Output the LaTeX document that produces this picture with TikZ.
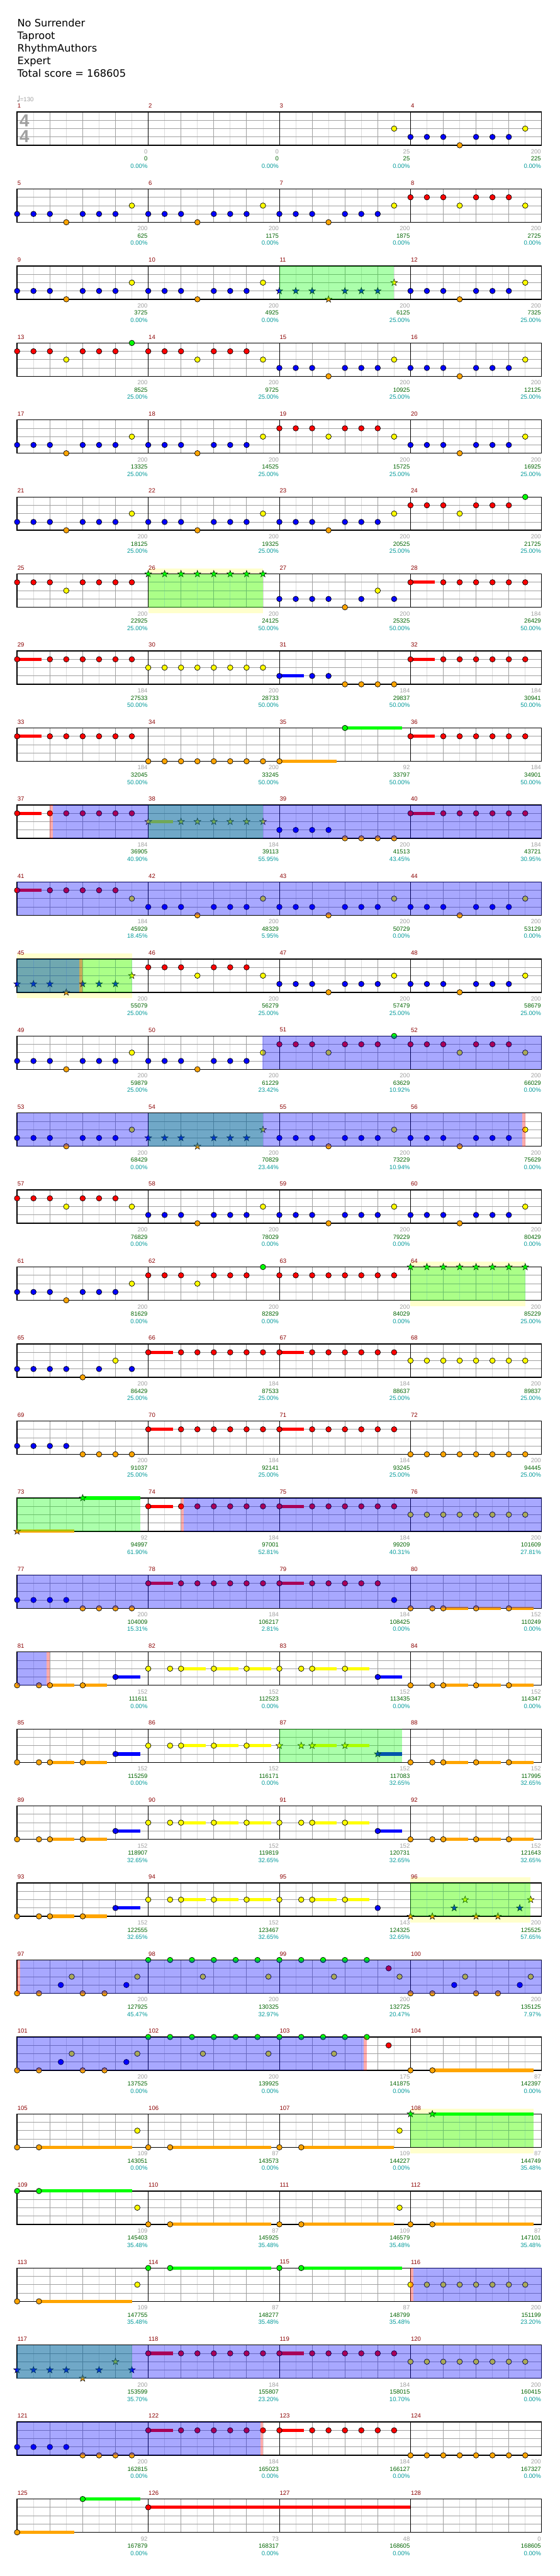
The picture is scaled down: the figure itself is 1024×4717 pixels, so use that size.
\documentclass[tikz,border=0pt]{standalone}
\usepackage{fontspec}
\setmainfont{Liberation Sans}
\newfontfamily\titlefont{DejaVu Sans}
\definecolor{nc0}{RGB}{0,255,0}
\definecolor{nc1}{RGB}{255,0,0}
\definecolor{nc2}{RGB}{255,255,0}
\definecolor{nc3}{RGB}{0,0,255}
\definecolor{nc4}{RGB}{255,165,0}
\definecolor{cgrey}{RGB}{160,160,160}
\definecolor{clight}{RGB}{220,220,220}
\definecolor{cmnum}{RGB}{139,0,0}
\definecolor{ctot}{RGB}{0,100,0}
\definecolor{cpct}{RGB}{0,153,153}
\definecolor{cybg}{RGB}{255,255,204}
\tikzset{
  gl/.style={clight,line width=1pt},
  gd/.style={cgrey,line width=1pt},
  bar/.style={black,line width=1pt},
  border/.style={black,line width=1.6pt},
  notepen/.style={black,line width=0.8pt},
  mnum/.style={anchor=west,inner sep=0pt,text=cmnum,font=\fontsize{11}{13}\selectfont},
  pts/.style={anchor=east,inner sep=0pt,text=cgrey,font=\fontsize{11}{13}\selectfont},
  tot/.style={anchor=east,inner sep=0pt,text=ctot,font=\fontsize{11}{13}\selectfont},
  pct/.style={anchor=east,inner sep=0pt,text=cpct,font=\fontsize{11}{13}\selectfont},
  hdr/.style={anchor=base west,inner sep=0pt,font=\titlefont\fontsize{18.7}{22}\selectfont},
  tsig/.style={inner sep=0pt,text=cgrey,font=\bfseries\fontsize{32}{34}\selectfont},
}
\newcommand\setrc[1]{%
  \pgfmathtruncatemacro\rr{(#1-1)/4}%
  \pgfmathtruncatemacro\cc{#1-1-4*\rr}%
  \pgfmathsetmacro\xx{31.3+240*\cc}%
  \pgfmathsetmacro\yy{205+141*\rr}%
}
\newcommand\nt[3]{%
  \pgfmathsetmacro\nx{\xx+#1}%
  \pgfmathsetmacro\ny{\yy+15.25*#2}%
  \ifnum#3>0 \fill[nc#2] (\nx,\ny-3) rectangle (\xx+#3,\ny+3);\fi
  \draw[notepen,fill=nc#2] (\nx,\ny) circle[radius=5];%
}
\newcommand\st[3]{%
  \pgfmathsetmacro\nx{\xx+#1}%
  \pgfmathsetmacro\ny{\yy+15.25*#2}%
  \ifnum#3>0 \fill[nc#2] (\nx,\ny-3) rectangle (\xx+#3,\ny+3);\fi
  \draw[notepen,line width=0.6pt,fill=nc#2] (\nx,\ny) +(-90:6.5) -- +(-54:2.6) -- +(-18:6.5) -- +(18:2.6) -- +(54:6.5) -- +(90:2.6) -- +(126:6.5) -- +(162:2.6) -- +(198:6.5) -- +(234:2.6) -- cycle;%
}
\newcommand\meas[2]{\setrc{#1}\foreach \p/\l/\s in #2 {\nt{\p}{\l}{\s}}}
\newcommand\smeas[2]{\setrc{#1}\foreach \p/\l/\s in #2 {\st{\p}{\l}{\s}}}
\newcommand\sco[4]{\setrc{#1}%
  \pgfmathsetmacro\ex{\xx+239}%
  \node[pts] (p#1) at (\ex,\yy+72.7) {#2};%
  \node[tot] (t#1) at (\ex,\yy+86) {#3};%
  \node[pct] (c#1) at (\ex,\yy+99.3) {#4\%};}
\newcommand\staffrow[1]{%
  \pgfmathsetmacro\yy{205+141*#1}%
  \foreach \k in {0,...,15} {\draw[gl] ({61.3+60*\k},\yy) -- ++(0,61);}%
  \foreach \k in {1,2,3,5,6,7,9,10,11,13,14,15} {\draw[gd] ({31.3+60*\k},\yy) -- ++(0,61);}%
  \foreach \f in {15.25,30.5,45.75} {\draw[gd] (31.3,\yy+\f) -- (991.3,\yy+\f);}%
  \foreach \k in {1,2,3} {\draw[bar] ({31.3+240*\k},\yy) -- ++(0,61);}%
  \draw[border] (31.3,\yy) rectangle (991.3,\yy+61);%
  \foreach \c in {0,1,2,3} {\pgfmathtruncatemacro\mm{4*#1+\c+1}\node[mnum] (n\mm) at ({31.8+240*\c},\yy-11) {\mm};}%
}
\newcommand\ybg[3]{\fill[cybg] (#2,{205+141*#1-10}) rectangle (#3,{205+141*#1+72});}
\newcommand\greg[3]{\fill[nc0,fill opacity=0.33] (#2,{205+141*#1}) rectangle (#3,{205+141*#1+61});}
\newcommand\breg[3]{\fill[nc3,fill opacity=0.34] (#2,{205+141*#1}) rectangle (#3,{205+141*#1+61});}
\newcommand\preg[3]{\fill[nc1,fill opacity=0.33] (#2,{205+141*#1}) rectangle (#3,{205+141*#1+61});}
\def\patA{0/3/0,30/3/0,60/3/0,90/4/0,120/3/0,150/3/0,180/3/0,210/2/0}
\def\patC{0/1/0,30/1/0,60/1/0,90/2/0,120/1/0,150/1/0,180/1/0,210/2/0}
\def\patCG{0/1/0,30/1/0,60/1/0,90/2/0,120/1/0,150/1/0,180/1/0,210/0/0}
\def\patCR{0/1/0,30/1/0,60/1/0,90/2/0,120/1/0,150/1/0,180/1/0,210/1/0}
\def\patD{0/3/0,30/3/0,60/3/0,90/3/0,120/4/0,150/3/0,180/2/0,210/3/0}
\def\patE{0/3/0,30/3/0,60/3/0,90/3/0,120/4/0,150/4/0,180/4/0,210/4/0}
\def\patRS{0/1/45,60/1/0,90/1/0,120/1/0,150/1/0,180/1/0,210/1/0}
\def\allG{0/0/0,30/0/0,60/0/0,90/0/0,120/0/0,150/0/0,180/0/0,210/0/0}
\def\allR{0/1/0,30/1/0,60/1/0,90/1/0,120/1/0,150/1/0,180/1/0,210/1/0}
\def\allY{0/2/0,30/2/0,60/2/0,90/2/0,120/2/0,150/2/0,180/2/0,210/2/0}
\def\allO{0/4/0,30/4/0,60/4/0,90/4/0,120/4/0,150/4/0,180/4/0,210/4/0}
\def\patP{0/4/0,40/4/0,60/4/105,120/4/165,180/4/225}
\def\patPB{0/4/0,40/4/0,60/4/105,120/4/165,180/3/225}
\def\patPY{0/2/0,40/2/0,60/2/105,120/2/165,180/2/225}
\def\patPYB{0/2/0,40/2/0,60/2/105,120/2/165,180/3/225}
\def\patQ{0/4/0,40/4/0,80/3/0,100/2/0,120/4/0,160/4/0,200/3/0,220/2/0}
\def\patGG{0/0/0,40/0/0,80/0/0,100/2/0,120/0/0,160/0/0,200/0/0,220/2/0}
\def\patLa{0/4/0,40/4/210,220/2/0}
\def\patLb{0/4/0,40/4/225}
\def\patGL{0/0/0,40/0/225}
\begin{document}
\begin{tikzpicture}[x=1pt,y=-1pt]
\useasboundingbox (0,0) rectangle (1024,4717);
\fill[white] (0,0) rectangle (1024,4717);
% header
\node[hdr] (hdr1) at (31.5,49) {No Surrender};
\node[hdr] (hdr2) at (31.5,72) {Taproot};
\node[hdr] (hdr3) at (31.5,95) {RhythmAuthors};
\node[hdr] (hdr4) at (31.5,118) {Expert};
\node[hdr] (hdr5) at (31.5,141) {Total score = 168605};
% tempo
\fill[cgrey] (33.3,184.8) ellipse[x radius=2.2,y radius=1.7];
\draw[cgrey,line width=0.7pt] (35.2,184.5) -- (35.2,174.5);
\node[anchor=west,inner sep=0pt,text=cgrey,font=\fontsize{11}{13}\selectfont] (tempo) at (36.5,181.7) {=130};
% yellow backgrounds
\ybg{6}{271.3}{481.3}
\ybg{11}{31.3}{241.3}
\ybg{15}{751.3}{961.3}
\ybg{23}{751.3}{971.3}
\ybg{26}{751.3}{976.3}
% staves
\foreach \r in {0,...,31} {\staffrow{\r}}
\node[tsig] (ts1) at (44.7,221) {4};
\node[tsig] (ts2) at (44.7,250) {4};
% notes
\meas{3}{{210/2/0}}
\meas{4}{\patA}
\meas{5}{\patA}\meas{6}{\patA}\meas{7}{\patA}\meas{8}{\patC}
\meas{9}{\patA}\meas{10}{\patA}\smeas{11}{\patA}\meas{12}{\patA}
\meas{13}{\patCG}\meas{14}{\patC}\meas{15}{\patA}\meas{16}{\patA}
\meas{17}{\patA}\meas{18}{\patA}\meas{19}{\patC}\meas{20}{\patA}
\meas{21}{\patA}\meas{22}{\patA}\meas{23}{\patA}\meas{24}{\patCG}
\meas{25}{\patCR}\smeas{26}{\allG}\meas{27}{\patD}\meas{28}{\patRS}
\meas{29}{\patRS}\meas{30}{\allY}\meas{31}{{0/3/45,60/3/0,90/3/0,120/4/0,150/4/0,180/4/0,210/4/0}}\meas{32}{\patRS}
\meas{33}{\patRS}\meas{34}{\allO}\meas{35}{{0/4/105,120/0/225}}\meas{36}{\patRS}
\meas{37}{\patRS}\smeas{38}{{0/2/45,60/2/0,90/2/0,120/2/0,150/2/0,180/2/0,210/2/0}}\meas{39}{\patE}\meas{40}{\patRS}
\meas{41}{{0/1/45,60/1/0,90/1/0,120/1/0,150/1/0,180/1/0,210/2/0}}\meas{42}{\patA}\meas{43}{\patA}\meas{44}{\patA}
\smeas{45}{\patA}\meas{46}{\patC}\meas{47}{\patA}\meas{48}{\patA}
\meas{49}{\patA}\meas{50}{\patA}\meas{51}{\patCG}\meas{52}{\patC}
\meas{53}{\patA}\smeas{54}{\patA}\meas{55}{\patA}\meas{56}{\patA}
\meas{57}{\patC}\meas{58}{\patA}\meas{59}{\patA}\meas{60}{\patA}
\meas{61}{\patA}\meas{62}{\patCG}\meas{63}{\allR}\smeas{64}{\allG}
\meas{65}{\patD}\meas{66}{\patRS}\meas{67}{\patRS}\meas{68}{\allY}
\meas{69}{\patE}\meas{70}{\patRS}\meas{71}{\patRS}\meas{72}{\allO}
\smeas{73}{{0/4/105,120/0/225}}\meas{74}{\patRS}\meas{75}{\patRS}\meas{76}{\allY}
\meas{77}{\patE}\meas{78}{\patRS}\meas{79}{{0/1/45,60/1/0,90/1/0,120/1/0,150/1/0,180/1/0,210/3/0}}\meas{80}{\patP}
\meas{81}{\patPB}\meas{82}{\patPY}\meas{83}{\patPYB}\meas{84}{\patP}
\meas{85}{\patPB}\meas{86}{\patPY}\smeas{87}{\patPYB}\meas{88}{\patP}
\meas{89}{\patPB}\meas{90}{\patPY}\meas{91}{\patPYB}\meas{92}{\patP}
\meas{93}{\patPB}\meas{94}{\patPY}\meas{95}{{0/2/0,40/2/0,60/2/105,120/2/165,180/3/0}}\smeas{96}{\patQ}
\meas{97}{\patQ}\meas{98}{\patGG}\meas{99}{{0/0/0,40/0/0,80/0/0,100/2/0,120/0/0,160/0/0,200/1/0,220/2/0}}\meas{100}{\patQ}
\meas{101}{\patQ}\meas{102}{\patGG}\meas{103}{{0/0/0,40/0/0,80/0/0,100/2/0,120/0/0,160/0/0,200/1/0}}\meas{104}{\patLb}
\meas{105}{\patLa}\meas{106}{\patLb}\meas{107}{\patLa}\smeas{108}{\patGL}
\meas{109}{{0/0/0,40/0/210,220/2/0}}\meas{110}{\patLb}\meas{111}{\patLa}\meas{112}{\patLb}
\meas{113}{\patLa}\meas{114}{\patGL}\meas{115}{\patGL}\meas{116}{\allY}
\smeas{117}{\patD}\meas{118}{\patRS}\meas{119}{\patRS}\meas{120}{\allY}
\meas{121}{\patE}\meas{122}{\patRS}\meas{123}{\patRS}\meas{124}{\allO}
\meas{125}{{0/4/105,120/0/225}}\meas{126}{{0/1/480}}
% green overlays
\greg{2}{511.3}{721.3}
\greg{6}{271.3}{481.3}
\greg{9}{271.3}{481.3}
\greg{11}{31.3}{241.3}
\greg{13}{271.3}{481.3}
\greg{15}{751.3}{961.3}
\greg{18}{31.3}{256.3}
\greg{21}{511.3}{736.3}
\greg{23}{751.3}{971.3}
\greg{26}{751.3}{976.3}
\greg{29}{31.3}{241.3}
% blue overlays
\preg{9}{91.3}{96.3}\breg{9}{96.3}{991.3}
\breg{10}{31.3}{991.3}
\breg{11}{31.3}{145.3}\preg{11}{145.3}{151.3}
\breg{12}{480.3}{991.3}
\breg{13}{31.3}{956.3}\preg{13}{956.3}{961.3}
\preg{18}{331.3}{336.3}\breg{18}{336.3}{991.3}
\breg{19}{31.3}{991.3}
\breg{20}{31.3}{85.3}\preg{20}{85.3}{91.3}
\preg{24}{31.3}{36.3}\breg{24}{36.3}{991.3}
\breg{25}{31.3}{665.3}\preg{25}{665.3}{671.3}
\preg{28}{751.3}{756.3}\breg{28}{756.3}{991.3}
\breg{29}{31.3}{991.3}
\breg{30}{31.3}{476.3}\preg{30}{476.3}{481.3}
% scores
\sco{1}{0}{0}{0.00}\sco{2}{0}{0}{0.00}\sco{3}{25}{25}{0.00}\sco{4}{200}{225}{0.00}
\sco{5}{200}{625}{0.00}\sco{6}{200}{1175}{0.00}\sco{7}{200}{1875}{0.00}\sco{8}{200}{2725}{0.00}
\sco{9}{200}{3725}{0.00}\sco{10}{200}{4925}{0.00}\sco{11}{200}{6125}{25.00}\sco{12}{200}{7325}{25.00}
\sco{13}{200}{8525}{25.00}\sco{14}{200}{9725}{25.00}\sco{15}{200}{10925}{25.00}\sco{16}{200}{12125}{25.00}
\sco{17}{200}{13325}{25.00}\sco{18}{200}{14525}{25.00}\sco{19}{200}{15725}{25.00}\sco{20}{200}{16925}{25.00}
\sco{21}{200}{18125}{25.00}\sco{22}{200}{19325}{25.00}\sco{23}{200}{20525}{25.00}\sco{24}{200}{21725}{25.00}
\sco{25}{200}{22925}{25.00}\sco{26}{200}{24125}{50.00}\sco{27}{200}{25325}{50.00}\sco{28}{184}{26429}{50.00}
\sco{29}{184}{27533}{50.00}\sco{30}{200}{28733}{50.00}\sco{31}{184}{29837}{50.00}\sco{32}{184}{30941}{50.00}
\sco{33}{184}{32045}{50.00}\sco{34}{200}{33245}{50.00}\sco{35}{92}{33797}{50.00}\sco{36}{184}{34901}{50.00}
\sco{37}{184}{36905}{40.90}\sco{38}{184}{39113}{55.95}\sco{39}{200}{41513}{43.45}\sco{40}{184}{43721}{30.95}
\sco{41}{184}{45929}{18.45}\sco{42}{200}{48329}{5.95}\sco{43}{200}{50729}{0.00}\sco{44}{200}{53129}{0.00}
\sco{45}{200}{55079}{25.00}\sco{46}{200}{56279}{25.00}\sco{47}{200}{57479}{25.00}\sco{48}{200}{58679}{25.00}
\sco{49}{200}{59879}{25.00}\sco{50}{200}{61229}{23.42}\sco{51}{200}{63629}{10.92}\sco{52}{200}{66029}{0.00}
\sco{53}{200}{68429}{0.00}\sco{54}{200}{70829}{23.44}\sco{55}{200}{73229}{10.94}\sco{56}{200}{75629}{0.00}
\sco{57}{200}{76829}{0.00}\sco{58}{200}{78029}{0.00}\sco{59}{200}{79229}{0.00}\sco{60}{200}{80429}{0.00}
\sco{61}{200}{81629}{0.00}\sco{62}{200}{82829}{0.00}\sco{63}{200}{84029}{0.00}\sco{64}{200}{85229}{25.00}
\sco{65}{200}{86429}{25.00}\sco{66}{184}{87533}{25.00}\sco{67}{184}{88637}{25.00}\sco{68}{200}{89837}{25.00}
\sco{69}{200}{91037}{25.00}\sco{70}{184}{92141}{25.00}\sco{71}{184}{93245}{25.00}\sco{72}{200}{94445}{25.00}
\sco{73}{92}{94997}{61.90}\sco{74}{184}{97001}{52.81}\sco{75}{184}{99209}{40.31}\sco{76}{200}{101609}{27.81}
\sco{77}{200}{104009}{15.31}\sco{78}{184}{106217}{2.81}\sco{79}{184}{108425}{0.00}\sco{80}{152}{110249}{0.00}
\sco{81}{152}{111611}{0.00}\sco{82}{152}{112523}{0.00}\sco{83}{152}{113435}{0.00}\sco{84}{152}{114347}{0.00}
\sco{85}{152}{115259}{0.00}\sco{86}{152}{116171}{0.00}\sco{87}{152}{117083}{32.65}\sco{88}{152}{117995}{32.65}
\sco{89}{152}{118907}{32.65}\sco{90}{152}{119819}{32.65}\sco{91}{152}{120731}{32.65}\sco{92}{152}{121643}{32.65}
\sco{93}{152}{122555}{32.65}\sco{94}{152}{123467}{32.65}\sco{95}{143}{124325}{32.65}\sco{96}{200}{125525}{57.65}
\sco{97}{200}{127925}{45.47}\sco{98}{200}{130325}{32.97}\sco{99}{200}{132725}{20.47}\sco{100}{200}{135125}{7.97}
\sco{101}{200}{137525}{0.00}\sco{102}{200}{139925}{0.00}\sco{103}{175}{141875}{0.00}\sco{104}{87}{142397}{0.00}
\sco{105}{109}{143051}{0.00}\sco{106}{87}{143573}{0.00}\sco{107}{109}{144227}{0.00}\sco{108}{87}{144749}{35.48}
\sco{109}{109}{145403}{35.48}\sco{110}{87}{145925}{35.48}\sco{111}{109}{146579}{35.48}\sco{112}{87}{147101}{35.48}
\sco{113}{109}{147755}{35.48}\sco{114}{87}{148277}{35.48}\sco{115}{87}{148799}{35.48}\sco{116}{200}{151199}{23.20}
\sco{117}{200}{153599}{35.70}\sco{118}{184}{155807}{23.20}\sco{119}{184}{158015}{10.70}\sco{120}{200}{160415}{0.00}
\sco{121}{200}{162815}{0.00}\sco{122}{184}{165023}{0.00}\sco{123}{184}{166127}{0.00}\sco{124}{200}{167327}{0.00}
\sco{125}{92}{167879}{0.00}\sco{126}{73}{168317}{0.00}\sco{127}{48}{168605}{0.00}\sco{128}{0}{168605}{0.00}
\end{tikzpicture}
\end{document}
